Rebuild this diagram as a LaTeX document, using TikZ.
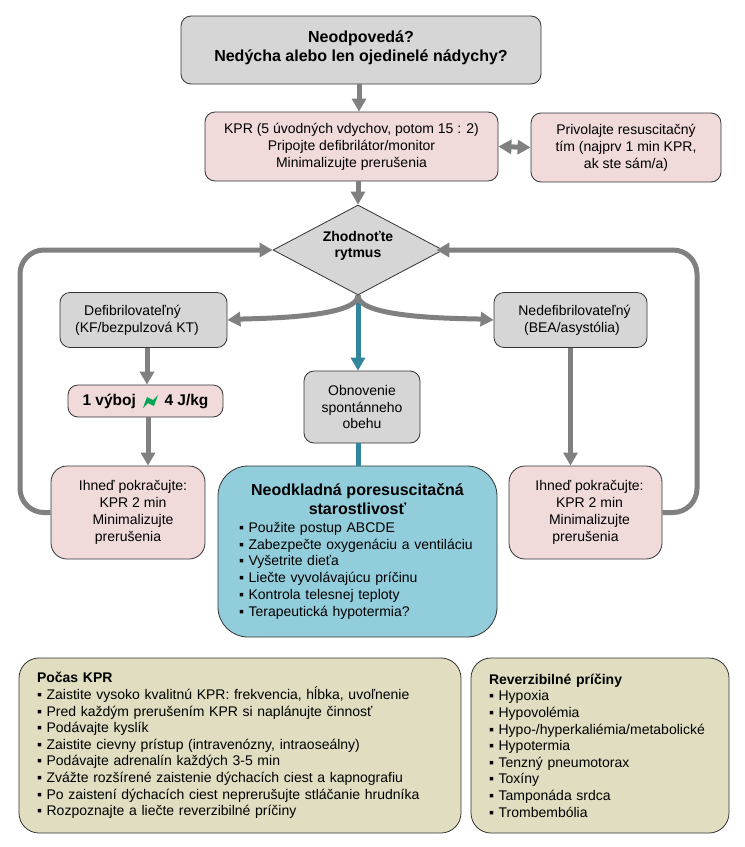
\documentclass[tikz,border=0pt]{standalone}
\usepackage{fontspec}
\setmainfont{Liberation Sans}
\usepackage{tikz}
\usetikzlibrary{positioning, shapes.geometric, arrows.meta}

\definecolor{boxgray}{HTML}{D6D6D6}
\definecolor{boxpink}{HTML}{F0DADA}
\definecolor{boxblue}{HTML}{92CDDC}
\definecolor{boxkhaki}{HTML}{E0DDC0}
\definecolor{linegray}{HTML}{808080}
\definecolor{lineblue}{HTML}{31859C}
\definecolor{boltgreen}{HTML}{00A651}

\tikzset{
    flowbox/.style={draw=black!80, line width=0.8pt, rounded corners=10pt, align=center, inner sep=0pt,
        font=\fontsize{14}{16.8}\selectfont},
    graybox/.style={flowbox, fill=boxgray},
    pinkbox/.style={flowbox, fill=boxpink},
    listbox/.style={flowbox, fill=boxkhaki, rounded corners=20pt, align=left, minimum height=175pt,
        font=\fontsize{14}{16.6}\selectfont},
    decision/.style={diamond, draw=black!80, line width=0.8pt, fill=boxgray, aspect=1.89, inner sep=0pt,
        minimum width=170pt, minimum height=90pt, align=center, text depth=11pt,
        font=\fontsize{14}{16.5}\selectfont\bfseries},
    flow/.style={line width=5pt, color=linegray, -{Triangle[width=14pt,length=13pt]}},
    flowblue/.style={flow, color=lineblue}
}

\begin{document}
\begin{tikzpicture}[x=1pt, y=-1pt, on grid]
        \useasboundingbox (0,0) rectangle (745,847);

        % Define the nodes
        \node[graybox, minimum width=360pt, minimum height=68pt, text depth=8pt, font=\fontsize{16}{19}\selectfont\bfseries] (start) at (361,50)
            {Neodpovedá?\\Nedýcha alebo len ojedinelé nádychy?};
        \node[pinkbox, minimum width=293pt, minimum height=69pt] (kpr) [below=96.5pt of start, xshift=-9.5pt]
            {KPR (5 úvodných vdychov, potom 15 : 2)\\Pripojte defibrilátor/monitor\\Minimalizujte prerušenia};
        \node[pinkbox, minimum width=190pt, minimum height=69pt] (team) [right=274.5pt of kpr, yshift=-1pt]
            {Privolajte resuscitačný\\tím (najprv 1 min KPR,\\ak ste sám/a)};
        \node[decision] (rhythm) [below=103.5pt of kpr, xshift=6.5pt] {Zhodnoťte\\rytmus};
        \node[graybox, minimum width=167pt, minimum height=55pt] (defib) [below left=70pt and 214.5pt of rhythm]
            {Defibrilovateľný\hspace*{22pt}\\(KF/bezpulzová KT)\hspace*{13pt}};
        \node[graybox, minimum width=153pt, minimum height=55pt] (nodefib) [below right=70pt and 212.5pt of rhythm]
            {\hspace*{8pt}Nedefibrilovateľný\\\hspace*{3pt}(BEA/asystólia)};
        \node[pinkbox, minimum width=155pt, minimum height=32pt, font=\fontsize{15.5}{18}\selectfont\bfseries] (shock) [below=81pt of defib, xshift=2pt]
            {1 výboj \hspace{20pt} 4 J/kg};
        \node[graybox, minimum width=116pt, minimum height=72pt] (rosc) [below=157pt of rhythm, xshift=4pt]
            {Obnovenie\\spontánneho\\obehu};
        \node[pinkbox, minimum width=154pt, minimum height=93pt, rounded corners=16pt] (cprleft) [below=111.5pt of shock, xshift=-17.5pt]
            {\hspace*{10pt}Ihneď pokračujte:\\\hspace*{10pt}KPR 2 min\\\hspace*{10pt}Minimalizujte\\prerušenia};
        \node[flowbox, fill=boxblue, rounded corners=30pt, align=left, text width=237pt, inner xsep=21pt, minimum height=171pt] (care) [below=144.5pt of rosc, xshift=-4.5pt]
            {\parbox{237pt}{\centering\fontsize{16}{19}\selectfont\bfseries Neodkladná poresuscitačná\\starostlivosť}\\[6pt]
             ▪ Použite postup ABCDE\\
             ▪ Zabezpečte oxygenáciu a ventiláciu\\
             ▪ Vyšetrite dieťa\\
             ▪ Liečte vyvolávajúcu  príčinu\\
             ▪ Kontrola telesnej teploty\\
             ▪ Terapeutická hypotermia?};
        \node[pinkbox, minimum width=153pt, minimum height=93pt, rounded corners=16pt] (cprright) [below=192.5pt of nodefib, xshift=15pt]
            {\hspace*{8pt}Ihneď pokračujte:\\\hspace*{8pt}KPR 2 min\\\hspace*{8pt}Minimalizujte\\prerušenia};
        \node[listbox, text width=406pt, inner xsep=18pt] (during) [below=194pt of care, xshift=-117.5pt]
            {\textbf{Počas KPR}\\
             ▪ Zaistite vysoko kvalitnú KPR: frekvencia, hĺbka, uvoľnenie\\
             ▪ Pred každým prerušením KPR si naplánujte činnosť\\
             ▪ Podávajte kyslík\\
             ▪ Zaistite cievny prístup (intravenózny, intraoseálny)\\
             ▪ Podávajte adrenalín každých 3-5 min\\
             ▪ Zvážte rozšírené zaistenie dýchacích ciest a kapnografiu\\
             ▪ Po zaistení dýchacích ciest neprerušujte stláčanie hrudníka\\
             ▪ Rozpoznajte a liečte reverzibilné príčiny};
        \node[listbox, text width=222pt, inner xsep=18pt] (causes) [right=360pt of during]
            {\textbf{Reverzibilné príčiny}\\
             ▪ Hypoxia\\
             ▪ Hypovolémia\\
             ▪ Hypo-/hyperkaliémia/metabolické\\
             ▪ Hypotermia\\
             ▪ Tenzný pneumotorax\\
             ▪ Toxíny\\
             ▪ Tamponáda srdca\\
             ▪ Trombembólia};

        % Lightning sign of the shock
        \fill[boltgreen] ([shift={(-2.5,7)}]shock.center) -- ++(4,-11) -- ++(6,3) -- ++(5,-5) -- ++(-4,11) -- ++(-6,-3) -- cycle;

        % Define the transitions
        \coordinate (loopleft) at (20,250);
        \coordinate (loopright) at (697,250);
        \draw[flowblue] (rhythm.south) -- (rosc.north -| rhythm.south);
        \draw[flowblue, -] (rosc.south -| rhythm.south) -- (care.north -| rhythm.south);
        \draw[flow] ([xshift=-2pt]start.south) -- ([xshift=7.5pt]kpr.north);
        \draw[flow] ([xshift=6.5pt]kpr.south) -- (rhythm.north);
        \draw[flow, {Triangle[width=14pt,length=13pt]}-{Triangle[width=14pt,length=13pt]}] (kpr.east) -- (team.west);
        \draw[flow] (rhythm.south) to[out=270, in=4, looseness=0.45] (defib.east);
        \draw[flow] (rhythm.south) to[out=270, in=176, looseness=0.45] (nodefib.west);
        \draw[flow] ([xshift=3.5pt]defib.south) -- ([xshift=1.5pt]shock.north);
        \draw[flow] ([xshift=2.5pt]shock.south) -- ([xshift=20pt]cprleft.north);
        \draw[flow] (nodefib.south) -- (nodefib.south |- cprright.north);
        \draw[flow, rounded corners=24pt] (cprleft.west) -| (loopleft) -- (rhythm.west);
        \draw[flow, rounded corners=24pt] (cprright.east) -| (loopright) -- ([xshift=-7pt]rhythm.east);
    \end{tikzpicture}
\end{document}
